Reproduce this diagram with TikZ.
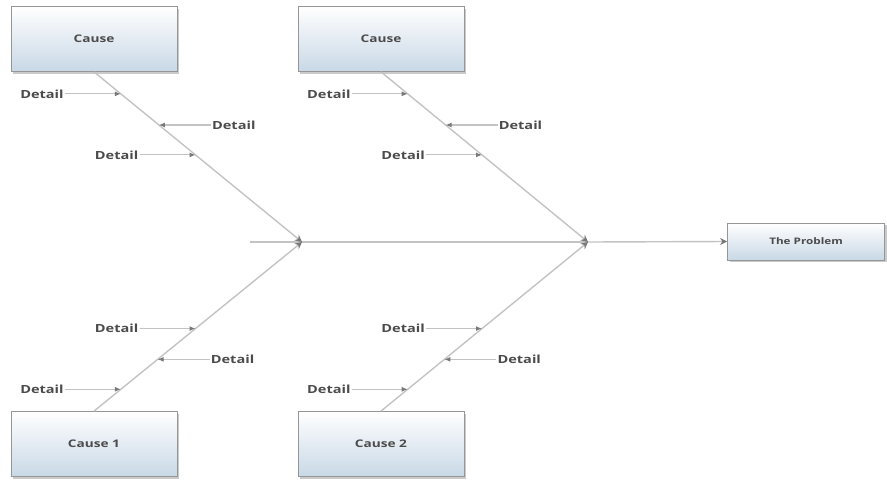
\documentclass[tikz,border=0pt]{standalone}
\usepackage{fontspec}
\usepackage{graphicx}
\setmainfont{Open Sans}
\usetikzlibrary{shadows,arrows.meta}
\definecolor{boxbot}{RGB}{200,216,230}
\definecolor{boxline}{RGB}{150,150,150}
\definecolor{boneline}{RGB}{195,195,195}
\definecolor{tipcol}{RGB}{120,120,120}
\definecolor{txt}{RGB}{75,75,75}
\newcommand\sx[1]{\scalebox{1.3}[1]{#1}}
\tikzset{
  causebox/.style={rectangle, draw=boxline, line width=0.8pt, top color=white, bottom color=boxbot,
    minimum width=166pt, minimum height=65pt, inner sep=0pt,
    drop shadow={shadow xshift=2pt, shadow yshift=-2pt, fill=black!35, opacity=0.6},
    font=\bfseries\fontsize{10.5}{12}\selectfont, text=txt},
  probbox/.style={causebox, minimum width=157pt, minimum height=37pt, font=\bfseries\fontsize{9}{11}\selectfont},
  detail/.style={font=\bfseries\fontsize{11.2}{13}\selectfont, text=txt, inner sep=1pt},
  bone/.style={draw=boneline, line width=1.4pt, -{Stealth[length=7pt,width=7pt,fill=tipcol,color=tipcol]}},
  bonep/.style={draw=boneline, line width=1.4pt},
  det/.style={draw=boneline, line width=1.1pt, -{Latex[length=6pt,width=5pt,color=tipcol]}}
}
\begin{document}
\begin{tikzpicture}[x=1pt,y=-1pt]
\useasboundingbox (0,0) rectangle (887,480);
% boxes
\node[causebox] (c1) at (94,39) {\sx{Cause}};
\node[causebox] (c2) at (381,39) {\sx{Cause}};
\node[causebox] (c3) at (94,444) {\sx{Cause 1}};
\node[causebox] (c4) at (381,444) {\sx{Cause 2}};
\node[probbox] (p) at (806,241.5) {\sx{The Problem}};
% spine
\coordinate (s) at (250,242);
\coordinate (j1) at (302,242);
\coordinate (j2) at (588,242);
\draw[bonep] (s) -- (j1);
\draw[bonep] (j1) -- (j2);
\draw[bone] (j2) -- (p.west);
% top bones
\path (c1.south) -- (j1) coordinate[pos=0.129] (a1) coordinate[pos=0.312] (a2) coordinate[pos=0.488] (a3);
\path (c2.south) -- (j2) coordinate[pos=0.129] (b1) coordinate[pos=0.312] (b2) coordinate[pos=0.488] (b3);
\draw[bone] (c1.south) -- (j1);
\draw[bone] (c2.south) -- (j2);
% bottom bones
\path (c3.north) -- (j1) coordinate[pos=0.129] (e1) coordinate[pos=0.306] (e2) coordinate[pos=0.488] (e3);
\path (c4.north) -- (j2) coordinate[pos=0.129] (f1) coordinate[pos=0.306] (f2) coordinate[pos=0.488] (f3);
\draw[bone] (c3.north) -- (j1);
\draw[bone] (c4.north) -- (j2);
% details top-left
\node[detail, anchor=east] (da1) at ([xshift=-56]a1) {\sx{Detail}};
\node[detail, anchor=west] (da2) at ([xshift=52]a2) {\sx{Detail}};
\node[detail, anchor=east] (da3) at ([xshift=-56]a3) {\sx{Detail}};
\draw[det] (da1) -- (a1);
\draw[det] (da2) -- (a2);
\draw[det] (da3) -- (a3);
% details top-right
\node[detail, anchor=east] (db1) at ([xshift=-56]b1) {\sx{Detail}};
\node[detail, anchor=west] (db2) at ([xshift=52]b2) {\sx{Detail}};
\node[detail, anchor=east] (db3) at ([xshift=-56]b3) {\sx{Detail}};
\draw[det] (db1) -- (b1);
\draw[det] (db2) -- (b2);
\draw[det] (db3) -- (b3);
% details bottom-left
\node[detail, anchor=east] (de1) at ([xshift=-56]e1) {\sx{Detail}};
\node[detail, anchor=west] (de2) at ([xshift=52]e2) {\sx{Detail}};
\node[detail, anchor=east] (de3) at ([xshift=-56]e3) {\sx{Detail}};
\draw[det] (de1) -- (e1);
\draw[det] (de2) -- (e2);
\draw[det] (de3) -- (e3);
% details bottom-right
\node[detail, anchor=east] (df1) at ([xshift=-56]f1) {\sx{Detail}};
\node[detail, anchor=west] (df2) at ([xshift=52]f2) {\sx{Detail}};
\node[detail, anchor=east] (df3) at ([xshift=-56]f3) {\sx{Detail}};
\draw[det] (df1) -- (f1);
\draw[det] (df2) -- (f2);
\draw[det] (df3) -- (f3);
\end{tikzpicture}
\end{document}
